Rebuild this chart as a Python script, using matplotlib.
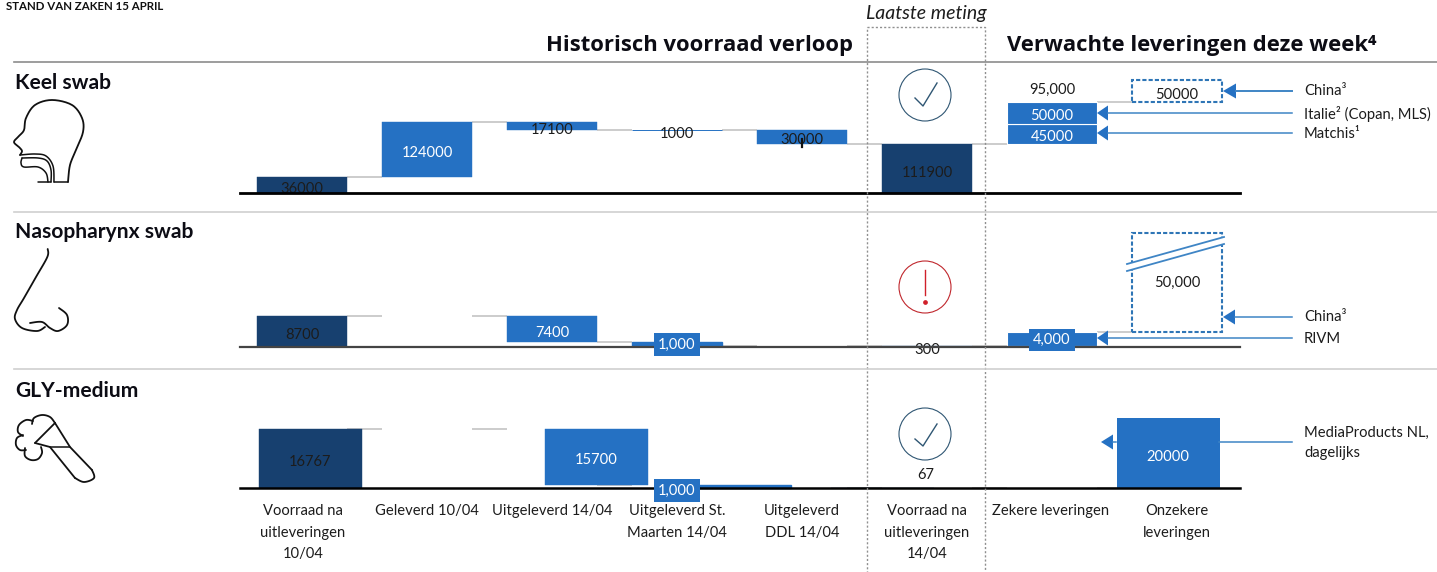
import numpy as np
import matplotlib
matplotlib.use('Agg')
import matplotlib.pyplot as plt
from matplotlib.patches import Circle, Polygon, Rectangle

plt.rcParams['font.family'] = ['Lato', 'DejaVu Sans']

# ------- data -------
categories = ['Voorraad na\nuitleveringen\n10/04', 'Geleverd 10/04', 'Uitgeleverd 14/04',
              'Uitgeleverd St.\nMaarten 14/04', 'Uitgeleverd\nDDL 14/04',
              'Voorraad na\nuitleveringen\n14/04', 'Zekere leveringen', 'Onzekere\nleveringen']

keel_hist = [36000, 124000, 17100, 1000, 30000, 111900]
keel_zeker = [45000, 50000]
keel_onzeker = 50000

naso_hist = [8700, 0, 7400, 1000, 0, 300]
naso_zeker = [4000]
naso_onzeker = 50000

gly_hist = [16767, 0, 15700, 1000, 0, 67]
gly_zeker = [0]
gly_onzeker = 20000

DARK = '#17406f'
BLUE = '#2571c3'
DASH = '#2e75b6'
LINE = '#3f85c5'
TXT = '#1c1c1c'
W, H = 1437, 572
FS = 10.65

fig = plt.figure(figsize=(W / 100, H / 100), dpi=100)

# overlay in pixel coordinates for headings, rules and icons
ov = fig.add_axes([0, 0, 1, 1], zorder=10)
ov.set_xlim(0, W)
ov.set_ylim(H, 0)
ov.axis('off')


def panel_axes(baseline, per_px):
    # full figure axes, x in pixels, y in stock units
    ax = fig.add_axes([0, 0, 1, 1], zorder=5)
    ax.set_xlim(0, W)
    ax.set_ylim(-(H - baseline) * per_px, baseline * per_px)
    ax.axis('off')
    return ax


def bar_label(ax, x, y, text, color=TXT, dy=-2, box=False, zorder=4):
    kw = {}
    if box:
        kw['bbox'] = dict(facecolor=BLUE, edgecolor='none', pad=3.0)
        zorder = 6
    ax.annotate(text, xy=(x, y), xytext=(0, dy - 1.5), textcoords='offset pixels', ha='center',
                va='center', fontsize=FS, color=color, zorder=zorder, **kw)


def waterfall(ax, hist, zeker, x0, step, width, slots=range(6), thin=1.0):
    xs = [x0 + step * i for i in range(8)]
    start = hist[0]
    after_in = start + hist[1]
    after_a = after_in - hist[2]
    after_b = after_a - hist[3]
    after_c = after_b - hist[4]
    bottoms = [0, start, after_a, after_b, after_c, 0]
    for i, slot in enumerate(slots):
        if hist[i] == 0:
            continue
        color = DARK if i in (0, 5) else BLUE
        # very small steps still need a visible line
        lw = thin if i == 3 else 0.3
        ax.bar(xs[slot], hist[i], width=width, bottom=bottoms[i], color=color, edgecolor=color,
               linewidth=lw, zorder=2)
    # stacked certain deliveries
    b = hist[5]
    for v in zeker:
        if v:
            ax.bar(xs[6], v, width=width, bottom=b, color=BLUE, edgecolor='white', linewidth=0.8, zorder=2)
        b += v
    # connectors keep the same pixel places in every panel
    levels = [start, after_in, after_a, after_b, after_c, hist[5], b]
    for i, lev in enumerate(levels):
        x1 = 347 + 125 * i
        ax.plot([x1, x1 + 35], [lev, lev], color='#c4c4c4', lw=1.2, zorder=1, solid_capstyle='butt')
    return xs, bottoms, b


def smooth(points, n=12):
    p = np.array([points[0]] + list(points) + [points[-1]], dtype=float)
    out = []
    for i in range(1, len(p) - 2):
        for t in np.linspace(0, 1, n, endpoint=False):
            out.append(0.5 * (2 * p[i] + (p[i + 1] - p[i - 1]) * t
                              + (2 * p[i - 1] - 5 * p[i] + 4 * p[i + 1] - p[i + 2]) * t ** 2
                              + (3 * p[i] - p[i - 1] - 3 * p[i + 1] + p[i + 2]) * t ** 3))
    out.append(p[-2])
    return np.array(out)


def icon(points, lw=1.3, curved=True, color='#111111'):
    pts = smooth(points) if curved else np.array(points)
    ov.plot(pts[:, 0], pts[:, 1], color=color, lw=lw, solid_capstyle='round', solid_joinstyle='round')


def callout(y, tip, end, base=None, lw=1.1):
    base = base if base else tip + 12
    ov.plot([base, end], [y, y], color=LINE, lw=lw)
    ov.add_patch(Polygon([(tip, y), (base, y - 7.5), (base, y + 7.5)], closed=True, fc=BLUE, ec='none'))


# ------- Keel swab -------
ax1 = panel_axes(192.5, 2285)
xs, bots, top = waterfall(ax1, keel_hist, keel_zeker, 302, 125, 90, thin=0.7)
ax1.bar(xs[7], keel_onzeker, width=90, bottom=top, facecolor='none', edgecolor=DASH, lw=1.5,
        linestyle=(0, (2, 1)), zorder=2)
for i in range(6):
    col = 'white' if i == 1 else TXT
    bar_label(ax1, xs[i], bots[i] + keel_hist[i] / 2, str(keel_hist[i]), col, dy=-3 if i in (0, 5) else -2)
b = keel_hist[5]
for v in keel_zeker:
    bar_label(ax1, xs[6], b + v / 2, str(v), 'white', dy=-2)
    b += v
bar_label(ax1, xs[6], top, f'{sum(keel_zeker):,}', TXT, dy=14)
bar_label(ax1, xs[7], top + keel_onzeker / 2, str(keel_onzeker), TXT, dy=-2)
ax1.plot([802, 802], [122000, 103000], color='#111111', lw=1.6, zorder=4)
ax1.plot([240, 1240], [0, 0], color='black', lw=2, zorder=5)

# ------- Nasopharynx swab -------
ax2 = panel_axes(346.7, 288)
xs, bots, top = waterfall(ax2, naso_hist, naso_zeker, 302, 125, 90)
box_top = (346.7 - 233) * 288   # broken bar, not to scale
ax2.bar(xs[7], box_top - top, width=90, bottom=top, facecolor='none', edgecolor=DASH, lw=1.5,
        linestyle=(0, (2, 1)), zorder=2)
bar_label(ax2, xs[0], naso_hist[0] / 2, str(naso_hist[0]), TXT, dy=-2)
bar_label(ax2, xs[2], bots[2] + naso_hist[2] / 2, str(naso_hist[2]), 'white', dy=-2)
bar_label(ax2, 677, bots[3] + naso_hist[3] / 2, f'{naso_hist[3]:,}', 'white', dy=1, box=True)
bar_label(ax2, xs[5], naso_hist[5], str(naso_hist[5]), TXT, dy=-3)
bar_label(ax2, xs[6], naso_hist[5] + naso_zeker[0] / 2, f'{naso_zeker[0]:,}', 'white', dy=0, box=True)
bar_label(ax2, xs[7], 18800, f'{naso_onzeker:,}', TXT, dy=0)
ax2.plot([240, 1240], [0, 0], color='#444444', lw=1.6, zorder=5)

# ------- GLY-medium -------
# this chart has a narrower layout, end stock sits in slot 4 and uncertain deliveries in slot 6
ax3 = panel_axes(488.3, 284)
xs, bots, top = waterfall(ax3, gly_hist, gly_zeker, 310, 143, 103, slots=[0, 1, 2, 3, 3, 4])
ax3.bar(xs[6], gly_onzeker, width=103, bottom=top, color=BLUE, zorder=3)
bar_label(ax3, xs[0], gly_hist[0] / 2, str(gly_hist[0]), TXT, dy=-2)
bar_label(ax3, xs[2], bots[2] + gly_hist[2] / 2, str(gly_hist[2]), 'white', dy=-2)
bar_label(ax3, 677, 67, f'{gly_hist[3]:,}', 'white', dy=-1, box=True)
bar_label(ax3, xs[4] + 44, 67, str(gly_hist[5]), TXT, dy=15)
bar_label(ax3, xs[6], top + gly_onzeker / 2, str(gly_onzeker), 'white', dy=-3, zorder=4)
ax3.plot([240, 1240], [0, 0], color='black', lw=1.8, zorder=5)

# ------- headings and rules -------
ov.plot([14, W], [62, 62], color='#8c8c8c', lw=1.2)
ov.plot([14, W], [211.5, 211.5], color='#cfcfcf', lw=1.2)
ov.plot([14, W], [369, 369], color='#cfcfcf', lw=1.2)
ov.add_patch(Rectangle((867, 27), 118, 560, fill=False, ec='#8f8f8f', lw=1, linestyle=(0, (1.5, 1.5))))

ov.text(6, 6, 'STAND VAN ZAKEN 15 APRIL', fontsize=8.3, fontweight='bold', color='#111111', va='center')
ov.text(926, 14, 'Laatste meting', fontsize=14, style='italic', color=TXT, ha='center', va='center')
ov.text(853, 45.5, 'Historisch voorraad verloop', fontsize=15.8, fontweight='bold', color='#0c0c14',
        ha='right', va='center', family=['Open Sans', 'DejaVu Sans'])
ov.text(1007, 45.5, 'Verwachte leveringen deze week⁴', fontsize=15.8, fontweight='bold', color='#0c0c14',
        ha='left', va='center', family=['Open Sans', 'DejaVu Sans'])
ov.text(15, 83, 'Keel swab', fontsize=15.1, fontweight='bold', color='#0c0c14', va='center')
ov.text(15, 232, 'Nasopharynx swab', fontsize=15.1, fontweight='bold', color='#0c0c14', va='center')
ov.text(15, 391, 'GLY-medium', fontsize=15.1, fontweight='bold', color='#0c0c14', va='center')

label_x = [303, 427, 552, 677, 802, 927, 1051, 1177]
for x, lab in zip(label_x, categories):
    ov.text(x, 504, lab, fontsize=FS, color=TXT, ha='center', va='top', linespacing=1.7)

# ------- callouts -------
callout(91, 1223, 1292, 1236, lw=1.4)
callout(113, 1097, 1292, 1108)
callout(133, 1097, 1292, 1108)
callout(317, 1223, 1292, 1235)
callout(338, 1097, 1292, 1108)
callout(442, 1101, 1116, 1113)
ov.plot([1219, 1292], [442, 442], color=LINE, lw=1.1)
for y, s in [(91, 'China³'), (114, 'Italie² (Copan, MLS)'), (134, 'Matchis¹'), (317, 'China³'), (339, 'RIVM'),
             (433, 'MediaProducts NL,'), (453, 'dagelijks')]:
    ov.text(1304, y, s, fontsize=FS, color=TXT, va='center')

# break in the dashed bar
ov.add_patch(Polygon([(1127, 264), (1224, 237), (1224, 244), (1127, 271)], closed=True, fc='white', ec='none'))
ov.plot([1127, 1224], [264, 237], color=LINE, lw=1.3)
ov.plot([1127, 1224], [271, 244], color=LINE, lw=1.3)

# ------- status icons -------
for cy, col in [(95, '#2f5673'), (434, '#2f5673'), (287, '#c0272d')]:
    ov.add_patch(Circle((925, cy), 26, fill=False, ec=col, lw=0.8))
ov.plot([915, 923, 937], [98, 106, 83], color='#2f5673', lw=1.0)
ov.plot([915, 923, 937], [439, 446, 424], color='#2f5673', lw=1.0)
ov.plot([925, 925], [270, 295], color='#d0202a', lw=1.0)
ov.plot([925], [302], marker='o', ms=2.4, color='#d0202a')

# ------- organ icons -------
icon([(68, 182), (70, 165), (76, 150), (83, 132), (82, 118), (72, 105), (52, 100), (35, 105),
      (26, 118), (24, 130), (19, 136), (14, 142), (19, 147), (22, 151), (20, 155)])
icon([(20, 155), (35, 154), (46, 156), (53, 166), (54, 182)], lw=1.1)
icon([(22, 158), (38, 158), (47, 161), (51, 170), (51, 182)], lw=1.1)
icon([(22, 158), (21, 163), (24, 167), (38, 167), (46, 173), (48, 182)], lw=1.1)
icon([(38, 182), (51, 182)], curved=False, lw=1.1)
icon([(54, 182), (68, 182)], curved=False, lw=1.1)

icon([(47.7, 249), (47.3, 257), (36, 277), (24, 298), (17, 310), (15, 319), (22, 328), (37, 331), (45, 327)])
icon([(30, 323), (42, 322), (50, 328), (58, 331), (67, 325), (67, 315), (59, 308)])

icon([(55, 423), (70, 447), (92, 470)], curved=False)
icon([(35, 443), (50, 447), (75, 478)], curved=False)
icon([(92, 470), (94, 478), (84, 482), (75, 478)])
icon([(35, 443), (55, 423)], curved=False)
icon([(50, 447), (70, 447)], curved=False, lw=1.1)
icon([(55, 423), (50, 417), (42, 415), (34, 418), (32, 424)])
icon([(33, 421), (26, 420), (19, 425), (18, 432), (23, 436)])
icon([(23, 435), (17, 438), (16, 445), (20, 450), (26, 450)])
icon([(25, 448), (25, 456), (31, 460), (38, 459), (42, 453), (41, 447)])

fig.savefig('out.png', dpi=100, facecolor='white')
